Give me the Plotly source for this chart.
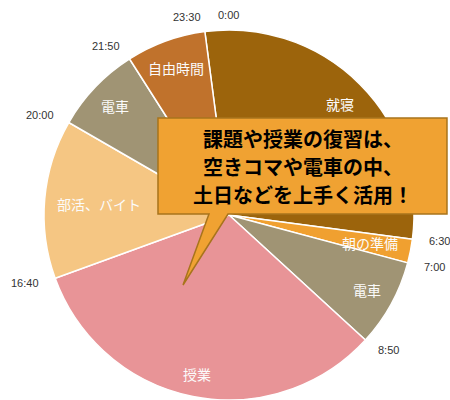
import math
import plotly.graph_objects as go

# ---- data ----
activities = ["就寝", "朝の準備", "電車", "授業", "部活、バイト", "電車", "自由時間"]
start_times = ["23:30", "6:30", "7:00", "8:50", "16:40", "20:00", "21:50"]
end_times = ["6:30", "7:00", "8:50", "16:40", "20:00", "21:50", "23:30"]
extra_tick = "0:00"
colors = ["#9c640c", "#f0a030", "#a09474", "#e89497", "#f5c683", "#a09474", "#c0722c"]
callout_lines = ["課題や授業の復習は、", "空きコマや電車の中、", "土日などを上手く活用！"]


def to_min(t):
    h, m = t.split(":")
    return int(h) * 60 + int(m)


durations = [(to_min(e) - to_min(s)) % 1440 for s, e in zip(start_times, end_times)]

# ---- geometry ----
W, H = 450, 400
CX, CY, R = 229, 215, 185


def paper(px, py):
    return px / W, 1 - py / H


fig = go.Figure()
fig.add_trace(go.Pie(
    labels=[f"{i}:{a}" for i, a in enumerate(activities)],
    values=durations,
    text=activities,
    sort=False,
    direction="clockwise",
    rotation=to_min(start_times[0]) / 1440 * 360 - 360,
    marker=dict(colors=colors, line=dict(color="white", width=1.5)),
    textinfo="none",
    hoverinfo="text",
    showlegend=False,
    domain=dict(x=[(CX - R) / W, (CX + R) / W], y=[1 - (CY + R) / H, 1 - (CY - R) / H]),
))

annotations = []

# slice labels (white, inside near the rim)
for name, s, d in zip(activities, start_times, durations):
    th = (to_min(s) + d / 2) / 1440 * 2 * math.pi
    w = 14 * len(name)
    ext = (w / 2) * abs(math.sin(th)) + 8 * abs(math.cos(th))
    dist = R - 12 - ext
    x, y = paper(CX + dist * math.sin(th), CY - dist * math.cos(th))
    annotations.append(dict(x=x, y=y, xref="paper", yref="paper", text=name, showarrow=False,
                            xanchor="center", yanchor="middle",
                            font=dict(family="Noto Sans CJK JP", size=14, color="#fbfbfb")))

# time labels around the pie
for t in start_times + [extra_tick]:
    th = to_min(t) / 1440 * 2 * math.pi
    s = math.sin(th)
    x, y = paper(CX + 200 * s, CY - 200 * math.cos(th))
    xa = "left" if s > 0.05 else ("right" if s < -0.05 else "center")
    annotations.append(dict(x=x, y=y, xref="paper", yref="paper", text=t, showarrow=False,
                            xanchor=xa, yanchor="middle",
                            font=dict(family="Liberation Sans", size=11, color="#333333")))

# callout text, one annotation per line
for i, line in enumerate(callout_lines):
    lx, ly = paper(303, 138 + 28 * i)
    annotations.append(dict(x=lx, y=ly, xref="paper", yref="paper", text=f"<b>{line}</b>",
                            showarrow=False, xanchor="center", yanchor="middle", borderpad=0,
                            font=dict(family="Noto Sans CJK JP", size=20, color="#000000")))

# callout bubble shape
pts = [(158, 118), (447, 118), (447, 214), (228, 214), (183, 285), (209, 214), (158, 214)]
path = "M " + " L ".join("{:.4f},{:.4f}".format(*paper(px, py)) for px, py in pts) + " Z"

fig.update_layout(
    width=W, height=H,
    margin=dict(l=0, r=0, t=0, b=0),
    paper_bgcolor="white",
    plot_bgcolor="white",
    annotations=annotations,
    shapes=[dict(type="path", path=path, xref="paper", yref="paper", layer="above",
                 fillcolor="#f0a232", line=dict(color="#a8741c", width=1.5))],
)

fig.write_html("out.html", config={"displayModeBar": False},
               post_script="document.body.style.margin='0';document.body.style.overflow='hidden';")
